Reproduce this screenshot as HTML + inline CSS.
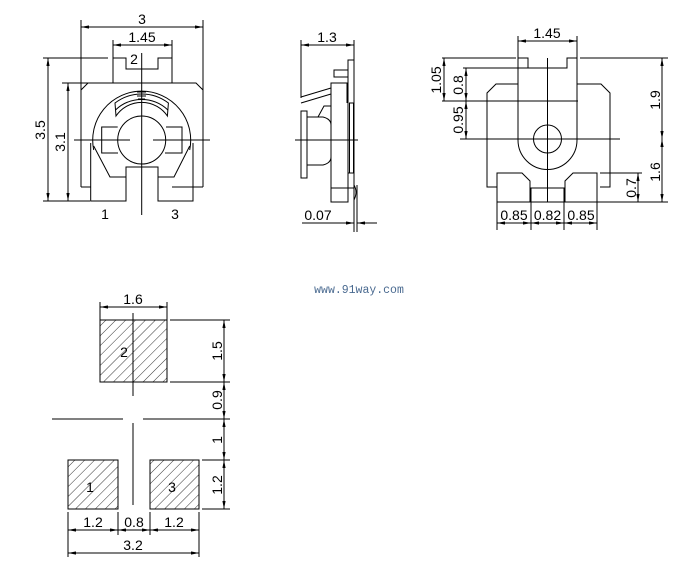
<!DOCTYPE html>
<html><head><meta charset="utf-8"><style>
html,body{margin:0;padding:0;background:#fff;}
svg{display:block;}
text{font-family:"Liberation Sans",sans-serif;font-size:14px;fill:#000;}
</style></head><body>
<svg width="684" height="579" viewBox="0 0 684 579" xmlns="http://www.w3.org/2000/svg">
<defs>
<marker id="a" viewBox="0 0 10 4" refX="10" refY="2" markerWidth="8" markerHeight="3.5" orient="auto-start-reverse" markerUnits="userSpaceOnUse"><path d="M0,0 L10,2 L0,4z" fill="#000"/></marker>
<pattern id="h" width="7" height="7" patternUnits="userSpaceOnUse" patternTransform="rotate(45)"><line x1="0" y1="0" x2="0" y2="7" stroke="#000" stroke-width="0.8"/></pattern>
</defs>
<g fill="none" stroke="#000" stroke-width="1">
<!-- ===== View 1 ===== -->
<line x1="81" y1="27" x2="203" y2="27" marker-start="url(#a)" marker-end="url(#a)"/>
<line x1="81" y1="20" x2="81" y2="187"/><line x1="203" y1="20" x2="203" y2="187"/>
<line x1="113" y1="45" x2="172" y2="45" marker-start="url(#a)" marker-end="url(#a)"/>
<line x1="113" y1="40" x2="113" y2="58"/><line x1="172" y1="40" x2="172" y2="58"/>
<path d="M113,83 V58 H126 V69 H158 V58 H172 V83"/>
<path d="M81,90 L88,83 H196 L203,90"/>
<line x1="43" y1="58" x2="108" y2="58"/>
<line x1="62" y1="83" x2="110" y2="83"/>
<line x1="48" y1="58" x2="48" y2="201" marker-start="url(#a)" marker-end="url(#a)"/>
<line x1="68" y1="83" x2="68" y2="201" marker-start="url(#a)" marker-end="url(#a)"/>
<line x1="43" y1="201" x2="90" y2="201"/>
<path d="M81,187 H90.7 M172,187 H203"/>
<path d="M90.7,143 V201 H126 V167 H158 V201 H193 V143"/>
<path d="M93.7,146 L110,177 H126 M189.7,146 L174,177 H158"/>
<path d="M93.7,150 A49,49 0 1 1 189.7,150"/>
<circle cx="141.7" cy="140" r="24"/>
<path d="M117.7,127 H101.7 V153 H118 M166,127 H182 V153 H165"/>
<path d="M116,116 L115,103 A44,44 0 0 1 168.4,103 L167.4,116 A31,31 0 0 0 116,116z"/>
<path d="M115.5,110 A38,38 0 0 1 167.9,110"/>
<line x1="74" y1="140" x2="130" y2="140"/><line x1="153" y1="140" x2="210" y2="140"/>
<line x1="141.7" y1="53" x2="141.7" y2="215"/>
<line x1="137" y1="92" x2="146" y2="92"/><line x1="137" y1="96" x2="146" y2="96"/><line x1="138" y1="99" x2="145" y2="99"/>
<!-- ===== View 2 ===== -->
<line x1="301" y1="45" x2="354" y2="45" marker-start="url(#a)" marker-end="url(#a)"/>
<line x1="301" y1="40" x2="301" y2="98"/><line x1="354" y1="40" x2="354" y2="232"/>
<line x1="357" y1="185" x2="357" y2="232"/>
<rect x="348" y="60" width="6" height="113"/>
<rect x="334" y="70" width="14" height="7"/>
<rect x="331" y="83" width="17" height="119"/>
<line x1="331" y1="188" x2="354" y2="188"/>
<line x1="347" y1="83" x2="347" y2="103"/>
<rect x="349.5" y="103" width="4" height="70"/>
<path d="M354,185 Q358,192 354,200"/>
<rect x="301" y="111" width="6" height="67"/>
<path d="M307,117 H323 Q331,119 331,125 M307,165 H323 Q331,163 331,157"/>
<path d="M318,117 L324,106 H331"/>
<path d="M301,97 L331,88 M301,103 L331,94"/>
<line x1="295" y1="140" x2="358" y2="140"/>
<line x1="302" y1="223" x2="354" y2="223" marker-end="url(#a)"/>
<line x1="377" y1="223" x2="357" y2="223" marker-end="url(#a)"/>
<!-- ===== View 3 ===== -->
<line x1="518" y1="41" x2="577" y2="41" marker-start="url(#a)" marker-end="url(#a)"/>
<line x1="518" y1="36" x2="518" y2="140"/><line x1="577" y1="36" x2="577" y2="140"/>
<path d="M518,58 H528 V68 H567 V58 H577"/>
<path d="M518,140 A29.5,29.5 0 0 0 577,140"/>
<line x1="442" y1="58" x2="516" y2="58"/><line x1="580" y1="58" x2="668" y2="58"/>
<line x1="463" y1="68" x2="567" y2="68"/>
<line x1="442" y1="101" x2="578" y2="101"/>
<path d="M518,84 H496 L487,93 V187 H497 M577,84 H601 L610,93 V187 H600"/>
<path d="M497,202 V173 H522 L530,181 V202 M597,202 V173 H573 L565,181 V202"/>
<path d="M531,202 V188 H564 V202"/>
<line x1="497" y1="202" x2="668" y2="202"/>
<line x1="600" y1="173" x2="642" y2="173"/>
<line x1="460" y1="139" x2="620" y2="139"/>
<line x1="547.5" y1="58" x2="547.5" y2="202"/>
<circle cx="547.5" cy="139" r="14"/>
<line x1="444" y1="58" x2="444" y2="101" marker-start="url(#a)" marker-end="url(#a)"/>
<line x1="466" y1="68" x2="466" y2="101" marker-start="url(#a)" marker-end="url(#a)"/>
<line x1="466" y1="101" x2="466" y2="139" marker-start="url(#a)" marker-end="url(#a)"/>
<line x1="662" y1="58" x2="662" y2="139" marker-start="url(#a)" marker-end="url(#a)"/>
<line x1="662" y1="139" x2="662" y2="202" marker-start="url(#a)" marker-end="url(#a)"/>
<line x1="638" y1="173" x2="638" y2="202" marker-start="url(#a)" marker-end="url(#a)"/>
<path d="M497,202 V230 M531,202 V230 M564,202 V230 M597,202 V230"/>
<line x1="497" y1="223" x2="531" y2="223" marker-start="url(#a)" marker-end="url(#a)"/>
<line x1="531" y1="223" x2="564" y2="223" marker-start="url(#a)" marker-end="url(#a)"/>
<line x1="564" y1="223" x2="597" y2="223" marker-start="url(#a)" marker-end="url(#a)"/>
<!-- ===== Footprint ===== -->
<rect x="100" y="320" width="67" height="62" fill="url(#h)"/>
<rect x="68" y="460" width="50" height="49" fill="url(#h)"/>
<rect x="150" y="460" width="49" height="49" fill="url(#h)"/>
<line x1="100" y1="307" x2="167" y2="307" marker-start="url(#a)" marker-end="url(#a)"/>
<line x1="100" y1="302" x2="100" y2="320"/><line x1="167" y1="302" x2="167" y2="320"/>
<line x1="133" y1="313" x2="133" y2="396"/><line x1="133" y1="423" x2="133" y2="505"/>
<line x1="52" y1="419" x2="123" y2="419"/><line x1="143" y1="419" x2="230" y2="419"/>
<line x1="170" y1="320" x2="230" y2="320"/><line x1="170" y1="382" x2="230" y2="382"/>
<line x1="202" y1="460" x2="230" y2="460"/><line x1="202" y1="509" x2="230" y2="509"/>
<line x1="224" y1="320" x2="224" y2="382" marker-start="url(#a)" marker-end="url(#a)"/>
<line x1="224" y1="382" x2="224" y2="419" marker-start="url(#a)" marker-end="url(#a)"/>
<line x1="224" y1="419" x2="224" y2="460" marker-start="url(#a)" marker-end="url(#a)"/>
<line x1="224" y1="460" x2="224" y2="509" marker-start="url(#a)" marker-end="url(#a)"/>
<path d="M68,512 V557 M118,512 V535 M150,512 V535 M199,512 V557"/>
<line x1="68" y1="530" x2="118" y2="530" marker-start="url(#a)" marker-end="url(#a)"/>
<line x1="118" y1="530" x2="150" y2="530" marker-start="url(#a)" marker-end="url(#a)"/>
<line x1="150" y1="530" x2="199" y2="530" marker-start="url(#a)" marker-end="url(#a)"/>
<line x1="68" y1="553" x2="199" y2="553" marker-start="url(#a)" marker-end="url(#a)"/>
</g>
<!-- labels -->
<text x="142" y="24" text-anchor="middle" font-size="15">3</text>
<text x="142" y="42" text-anchor="middle">1.45</text>
<text x="134" y="64" text-anchor="middle" font-size="15">2</text>
<text x="105" y="219" text-anchor="middle" font-size="15">1</text>
<text x="175" y="219" text-anchor="middle" font-size="15">3</text>
<text transform="translate(45,130) rotate(-90)" text-anchor="middle" font-size="15">3.5</text>
<text transform="translate(65,142) rotate(-90)" text-anchor="middle" font-size="15">3.1</text>
<text x="327" y="42" text-anchor="middle">1.3</text>
<text x="318" y="220" text-anchor="middle">0.07</text>
<text x="547" y="38" text-anchor="middle">1.45</text>
<text transform="translate(441,80) rotate(-90)" text-anchor="middle">1.05</text>
<text transform="translate(463,85) rotate(-90)" text-anchor="middle">0.8</text>
<text transform="translate(463,120) rotate(-90)" text-anchor="middle">0.95</text>
<text transform="translate(660,100) rotate(-90)" text-anchor="middle">1.9</text>
<text transform="translate(660,172) rotate(-90)" text-anchor="middle">1.6</text>
<text transform="translate(636,188) rotate(-90)" text-anchor="middle">0.7</text>
<text x="514" y="220" text-anchor="middle">0.85</text>
<text x="547.5" y="220" text-anchor="middle">0.82</text>
<text x="581" y="220" text-anchor="middle">0.85</text>
<text x="359" y="293" text-anchor="middle" style="font-family:'Liberation Mono',monospace;font-size:11.5px;fill:#4a6a90">www.91way.com</text>
<text x="133" y="304" text-anchor="middle">1.6</text>
<text x="124" y="357" text-anchor="middle" font-size="15">2</text>
<text x="90" y="492" text-anchor="middle" font-size="15">1</text>
<text x="172" y="492" text-anchor="middle" font-size="15">3</text>
<text transform="translate(222,351) rotate(-90)" text-anchor="middle">1.5</text>
<text transform="translate(222,400) rotate(-90)" text-anchor="middle">0.9</text>
<text transform="translate(222,440) rotate(-90)" text-anchor="middle">1</text>
<text transform="translate(222,485) rotate(-90)" text-anchor="middle">1.2</text>
<text x="93" y="527" text-anchor="middle">1.2</text>
<text x="134" y="527" text-anchor="middle">0.8</text>
<text x="174" y="527" text-anchor="middle">1.2</text>
<text x="133" y="550" text-anchor="middle">3.2</text>
</svg>
</body></html>
